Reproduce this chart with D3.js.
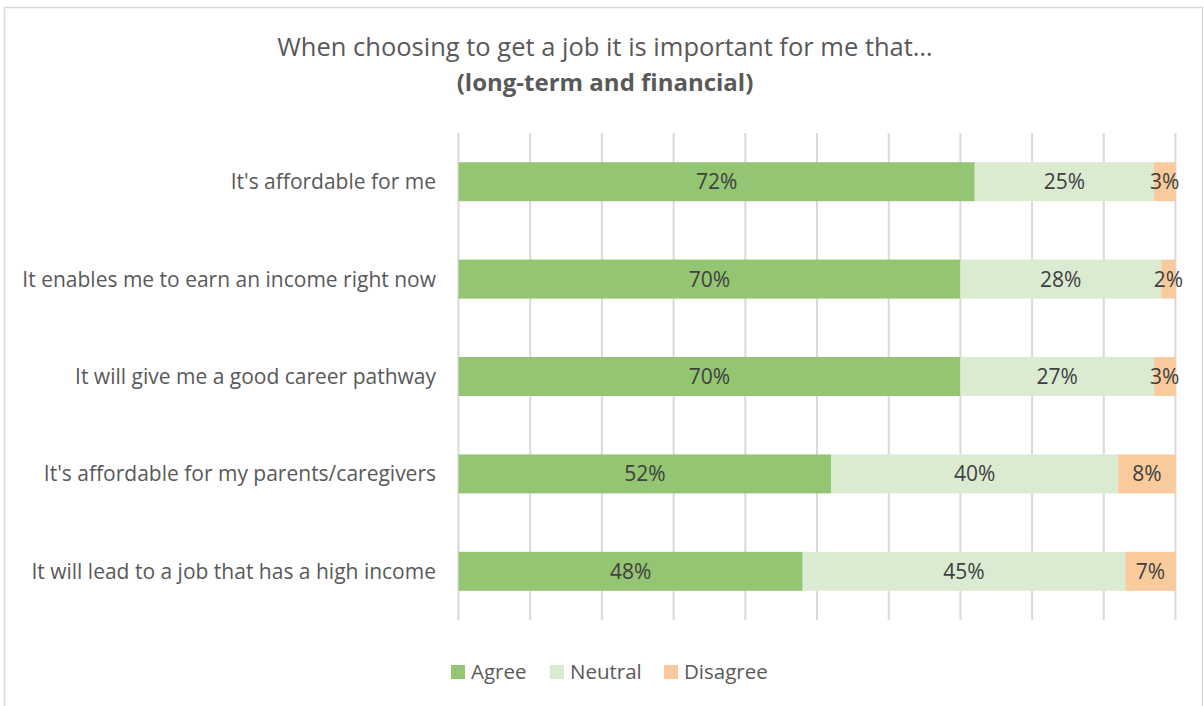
<!DOCTYPE html>
<html>
<head>
<meta charset="utf-8">
<script src="https://cdn.jsdelivr.net/npm/d3@7"></script>
<style>
  html, body { margin: 0; padding: 0; background: #fff; }
  svg { display: block; font-family: "Open Sans", "Noto Sans", sans-serif; }
</style>
</head>
<body>
<svg id="chart" width="1204" height="706"></svg>
<script>
// Survey statements, top to bottom
const categories = [
  "It's affordable for me",
  "It enables me to earn an income right now",
  "It will give me a good career pathway",
  "It's affordable for my parents/caregivers",
  "It will lead to a job that has a high income"
];
// Share of responses (%) per statement
const agree    = [72, 70, 70, 52, 48];
const neutral  = [25, 28, 27, 40, 45];
const disagree = [3, 2, 3, 8, 7];

const seriesNames = ["Agree", "Neutral", "Disagree"];
const seriesColors = ["#93c572", "#dbebd2", "#f9cb9c"];
const gridTicks = [0, 10, 20, 30, 40, 50, 60, 70, 80, 90, 100];

const svg = d3.select("#chart");
const W = 1204, H = 706;

// Chart frame
svg.append("rect")
  .attr("x", 4.5).attr("y", 7.5)
  .attr("width", W - 6).attr("height", H + 10)
  .attr("fill", "#fff").attr("stroke", "#d9d9d9").attr("stroke-width", 1.5);

// Title
svg.append("text")
  .attr("x", 605).attr("y", 56)
  .attr("text-anchor", "middle")
  .attr("font-size", 25.5).attr("fill", "#595959")
  .text("When choosing to get a job it is important for me that…");
svg.append("text")
  .attr("x", 605).attr("y", 91)
  .attr("text-anchor", "middle")
  .attr("font-size", 24).attr("font-weight", "bold").attr("fill", "#595959")
  .text("(long-term and financial)");

const plot = { left: 458.5, right: 1175.5, top: 133, bottom: 620 };

const x = d3.scaleLinear().domain([0, 100]).range([plot.left, plot.right]);
const y = d3.scaleBand().domain(categories).range([plot.top, plot.bottom]).paddingInner(0.6).paddingOuter(0.3);

// Vertical gridlines
svg.append("g")
  .selectAll("line")
  .data(gridTicks)
  .join("line")
  .attr("x1", d => x(d)).attr("x2", d => x(d))
  .attr("y1", plot.top).attr("y2", plot.bottom)
  .attr("stroke", "#d9d9d9").attr("stroke-width", 2);

// Stacked rows
const rows = categories.map((c, i) => ({ cat: c, Agree: agree[i], Neutral: neutral[i], Disagree: disagree[i] }));
const stack = d3.stack().keys(seriesNames)(rows);

const layers = svg.append("g")
  .selectAll("g")
  .data(stack)
  .join("g")
  .attr("fill", (d, i) => seriesColors[i]);

layers.selectAll("rect")
  .data(d => d)
  .join("rect")
  .attr("x", d => x(d[0]))
  .attr("y", d => y(d.data.cat))
  .attr("width", d => x(d[1]) - x(d[0]))
  .attr("height", y.bandwidth());

// Value labels, centred in each segment
layers.selectAll("text")
  .data(d => d)
  .join("text")
  .attr("x", d => (x(d[0]) + x(d[1])) / 2)
  .attr("y", d => y(d.data.cat) + y.bandwidth() / 2)
  .attr("dy", "0.36em")
  .attr("text-anchor", "middle")
  .attr("font-size", 21).attr("fill", "#404040")
  .text(d => (d[1] - d[0]) + "%");

// Category axis labels
svg.append("g")
  .selectAll("text")
  .data(categories)
  .join("text")
  .attr("x", 436)
  .attr("y", d => y(d) + y.bandwidth() / 2)
  .attr("dy", "0.36em")
  .attr("text-anchor", "end")
  .attr("font-size", 21).attr("fill", "#595959")
  .text(d => d);

// Legend
const legendX = [451, 550, 664];
const legend = svg.append("g")
  .selectAll("g")
  .data(seriesNames)
  .join("g")
  .attr("transform", (d, i) => `translate(${legendX[i]},665)`);
legend.append("rect")
  .attr("width", 14).attr("height", 14)
  .attr("fill", (d, i) => seriesColors[i]);
legend.append("text")
  .attr("x", 20).attr("y", 7).attr("dy", "0.36em")
  .attr("font-size", 20.5).attr("fill", "#595959")
  .text(d => d);
</script>
</body>
</html>
